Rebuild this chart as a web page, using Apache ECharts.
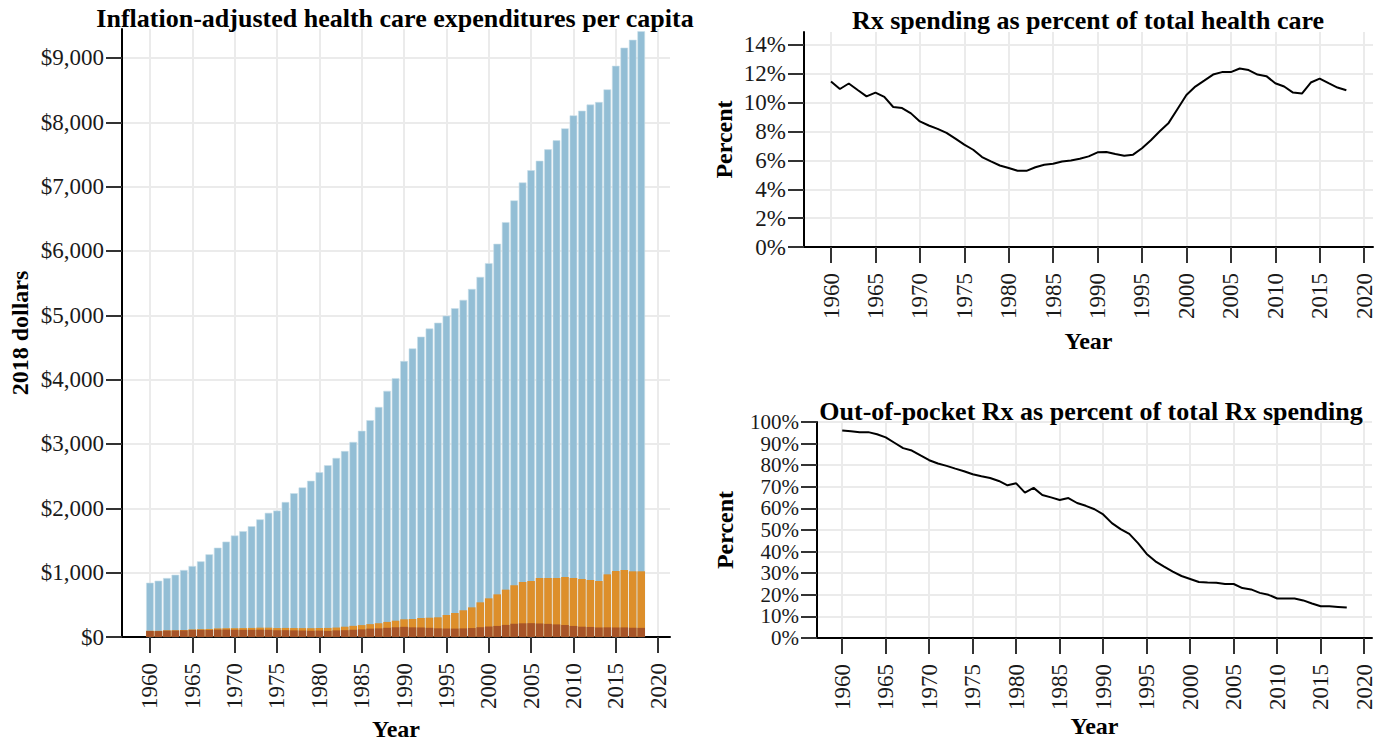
<!DOCTYPE html>
<html>
<head>
<meta charset="utf-8">
<script src="https://cdn.jsdelivr.net/npm/echarts@6/dist/echarts.min.js"></script>
<style>
html, body { margin: 0; padding: 0; background: #fff; }
#chart { width: 1387px; height: 742px; }
</style>
</head>
<body>
<div id="chart"></div>
<script>
var years = [1960, 1961, 1962, 1963, 1964, 1965, 1966, 1967, 1968, 1969,
    1970, 1971, 1972, 1973, 1974, 1975, 1976, 1977, 1978, 1979,
    1980, 1981, 1982, 1983, 1984, 1985, 1986, 1987, 1988, 1989,
    1990, 1991, 1992, 1993, 1994, 1995, 1996, 1997, 1998, 1999,
    2000, 2001, 2002, 2003, 2004, 2005, 2006, 2007, 2008, 2009,
    2010, 2011, 2012, 2013, 2014, 2015, 2016, 2017, 2018];

// per capita, 2018 dollars
var totalSpend = [844, 875, 917, 968, 1041, 1103, 1176, 1285, 1388, 1482,
    1578, 1645, 1722, 1828, 1930, 1965, 2098, 2235, 2325, 2428,
    2560, 2670, 2783, 2890, 3032, 3205, 3370, 3575, 3826, 4023,
    4289, 4485, 4668, 4795, 4885, 4995, 5110, 5240, 5410, 5597,
    5811, 6112, 6448, 6786, 7065, 7255, 7402, 7580, 7720, 7906,
    8108, 8180, 8276, 8315, 8512, 8878, 9160, 9282, 9415];
var rxSpend = [97, 96, 104, 105, 109, 118, 122, 125, 134, 137,
    137, 139, 141, 145, 145, 139, 141, 139, 138, 137,
    140, 141, 147, 160, 173, 185, 200, 214, 234, 253,
    275, 280, 295, 300, 306, 342, 373, 415, 461, 539,
    601, 663, 736, 803, 855, 870, 917, 917, 917, 933,
    917, 902, 886, 870, 974, 1026, 1041, 1021, 1021];
var oopSpend = [93, 92, 99, 100, 103, 110, 110, 109, 115, 116,
    113, 112, 112, 114, 112, 105, 106, 103, 101, 97,
    100, 95, 103, 106, 113, 119, 130, 134, 143, 151,
    158, 150, 148, 143, 135, 132, 131, 134, 139, 152,
    163, 172, 188, 204, 213, 215, 210, 204, 196, 187,
    172, 160, 156, 148, 150, 148, 149, 144, 142];

// Rx as % of total health care
var rxPct = [11.47, 10.95, 11.33, 10.88, 10.44, 10.70, 10.40, 9.70, 9.63, 9.26,
    8.70, 8.42, 8.19, 7.91, 7.51, 7.09, 6.74, 6.23, 5.93, 5.65,
    5.47, 5.28, 5.28, 5.53, 5.70, 5.77, 5.93, 6.00, 6.12, 6.28,
    6.56, 6.58, 6.44, 6.33, 6.40, 6.84, 7.40, 8.02, 8.60, 9.56,
    10.53, 11.12, 11.53, 11.95, 12.12, 12.12, 12.37, 12.26, 11.95, 11.84,
    11.35, 11.12, 10.70, 10.63, 11.40, 11.67, 11.35, 11.05, 10.86];

// out-of-pocket as % of total Rx
var oopPct = [96.1, 95.7, 95.3, 95.3, 94.3, 92.9, 90.4, 87.9, 86.8, 84.5,
    82.3, 80.8, 79.7, 78.4, 77.2, 75.8, 74.9, 74.1, 72.7, 70.7,
    71.6, 67.3, 69.5, 66.2, 65.1, 63.9, 64.8, 62.5, 61.2, 59.6,
    57.2, 53.2, 50.4, 48.2, 43.9, 38.9, 35.5, 33.0, 30.7, 28.7,
    27.3, 25.9, 25.7, 25.6, 25.0, 25.0, 23.1, 22.5, 20.9, 20.0,
    18.3, 18.3, 18.3, 17.4, 16.0, 14.7, 14.7, 14.4, 14.1];

var yearTicks = [1960, 1965, 1970, 1975, 1980, 1985, 1990, 1995, 2000, 2005, 2010, 2015, 2020];
var dollarTicks = [0, 1000, 2000, 3000, 4000, 5000, 6000, 7000, 8000, 9000];
var rxPctTicks = [0, 2, 4, 6, 8, 10, 12, 14];
var oopPctTicks = [0, 10, 20, 30, 40, 50, 60, 70, 80, 90, 100];

var FONT = '"Liberation Serif", "DejaVu Serif", serif';
var TXT = '#1a1a1a';
var GRID_LINE = { show: true, lineStyle: { color: '#ebebeb', width: 2 } };

function pairs(ys) {
    return years.map(function (y, i) { return [y, ys[i]]; });
}

function xAxisFor(gridIndex, min, max, gap) {
    return {
        type: 'value', gridIndex: gridIndex, min: min, max: max,
        name: 'Year', nameLocation: 'middle', nameGap: gap,
        nameTextStyle: { fontFamily: FONT, fontSize: 24, lineHeight: 20, fontWeight: 'bold', color: '#000' },
        axisLine: { show: true, onZero: false, lineStyle: { color: '#000', width: 2 } },
        axisTick: { show: true, length: 16, customValues: yearTicks, lineStyle: { color: '#333', width: 2 } },
        axisLabel: {
            customValues: yearTicks, rotate: 90, margin: 26,
            fontFamily: FONT, fontSize: 23, color: TXT,
            formatter: function (v) { return String(Math.round(v)); }
        },
        splitLine: GRID_LINE
    };
}

function yAxisFor(gridIndex, max, ticks, fmt, name, gap, labelSize) {
    return {
        type: 'value', gridIndex: gridIndex, min: 0, max: max,
        name: name, nameLocation: 'middle', nameGap: gap,
        nameTextStyle: { fontFamily: FONT, fontSize: 24, fontWeight: 'bold', color: '#000' },
        axisLine: { show: true, lineStyle: { color: '#000', width: 2 } },
        axisTick: { show: true, length: 16, customValues: ticks, lineStyle: { color: '#333', width: 2 } },
        axisLabel: {
            customValues: ticks, margin: 18, showMinLabel: true, showMaxLabel: true,
            fontFamily: FONT, fontSize: labelSize, lineHeight: labelSize, color: TXT,
            formatter: fmt
        },
        splitLine: GRID_LINE
    };
}

function dollars(v) {
    return '$' + String(Math.round(v)).replace(/\B(?=(\d{3})+(?!\d))/g, ',');
}
function pct(v) { return Math.round(v) + '%'; }

function titleText(x, y, text) {
    return { type: 'text', x: x, y: y, z: 100,
        style: { text: text, font: 'bold 26px ' + FONT, fill: '#000', textAlign: 'center', textVerticalAlign: 'middle' } };
}

var chart = echarts.init(document.getElementById('chart'), null, { renderer: 'svg' });

var option = {
    animation: false,
    backgroundColor: '#fff',
    graphic: [
        titleText(395, 18, 'Inflation-adjusted health care expenditures per capita'),
        titleText(1088, 20, 'Rx spending as percent of total health care'),
        titleText(1091, 411, 'Out-of-pocket Rx as percent of total Rx spending')
    ],
    grid: [
        { left: 122, top: 29, width: 548, height: 608, outerBoundsMode: 'none' },
        { left: 804, top: 32, width: 569, height: 215, outerBoundsMode: 'none' },
        { left: 817, top: 422, width: 555, height: 216, outerBoundsMode: 'none' }
    ],
    xAxis: [
        xAxisFor(0, 1956.7, 2021.4, 78),
        xAxisFor(1, 1956.96, 2021.0, 84),
        xAxisFor(2, 1957.1, 2020.9, 78)
    ],
    yAxis: [
        yAxisFor(0, 9450, dollarTicks, dollars, '2018 dollars', 90, 23),
        yAxisFor(1, 14.9, rxPctTicks, pct, 'Percent', 68, 23),
        yAxisFor(2, 100, oopPctTicks, pct, 'Percent', 80, 21)
    ],
    series: [
        { type: 'bar', name: 'Total', xAxisIndex: 0, yAxisIndex: 0, data: pairs(totalSpend), barWidth: 7.6, barGap: '-100%',
          itemStyle: { color: '#93bed5', borderColor: '#c9dfea', borderWidth: 0.6 } },
        { type: 'bar', name: 'Rx', xAxisIndex: 0, yAxisIndex: 0, data: pairs(rxSpend), barWidth: 7.6, barGap: '-100%',
          itemStyle: { color: '#dd8f2b' } },
        { type: 'bar', name: 'Out-of-pocket Rx', xAxisIndex: 0, yAxisIndex: 0, data: pairs(oopSpend), barWidth: 7.6, barGap: '-100%',
          itemStyle: { color: '#a75428' } },
        { type: 'line', name: 'Rx %', xAxisIndex: 1, yAxisIndex: 1, data: pairs(rxPct), showSymbol: false,
          lineStyle: { color: '#000', width: 2 } },
        { type: 'line', name: 'OOP %', xAxisIndex: 2, yAxisIndex: 2, data: pairs(oopPct), showSymbol: false,
          lineStyle: { color: '#000', width: 2 } }
    ]
};

chart.setOption(option);
</script>
</body>
</html>
